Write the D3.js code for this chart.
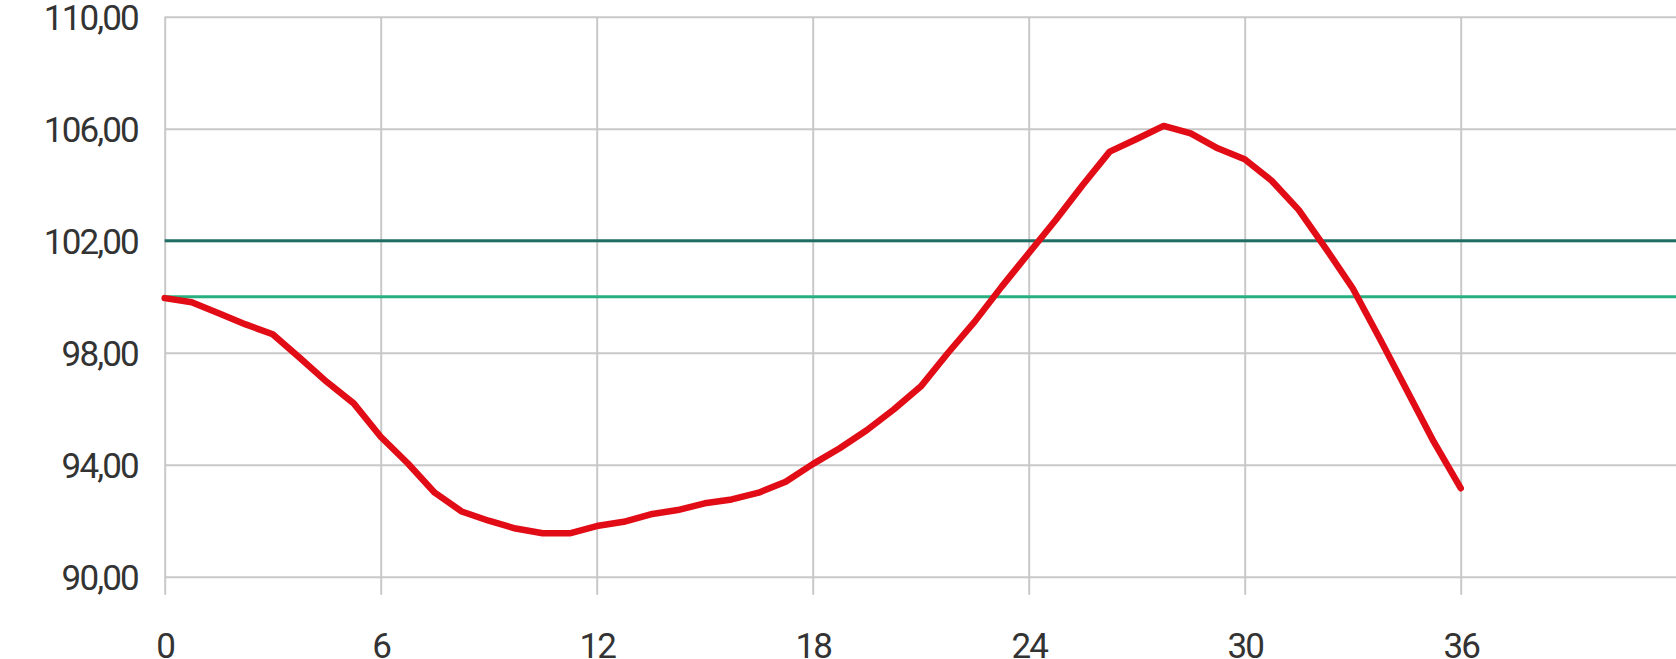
<!DOCTYPE html>
<html>
<head>
<meta charset="utf-8">
<script src="https://cdn.jsdelivr.net/npm/d3@7"></script>
<style>
  body { margin: 0; background: #fff; }
  svg { display: block; }
</style>
</head>
<body>
<div class="chart"></div>
<script>
const hours = [
  0, 0.75, 1.5, 2.25, 3, 3.75, 4.5, 5.25, 6, 6.75, 7.5, 8.25,
  9, 9.75, 10.5, 11.25, 12, 12.75, 13.5, 14.25, 15, 15.75, 16.5, 17.25,
  18, 18.75, 19.5, 20.25, 21, 21.75, 22.5, 23.25, 24, 24.75, 25.5, 26.25,
  27, 27.75, 28.5, 29.25, 30, 30.75, 31.5, 32.25, 33, 33.75, 34.5, 35.25, 36
];
const values = [
  99.95, 99.80, 99.41, 99.01, 98.66, 97.82, 96.96, 96.19, 95.00, 94.05, 93.00, 92.33,
  92.00, 91.72, 91.55, 91.55, 91.81, 91.96, 92.23, 92.38, 92.62, 92.76, 93.00, 93.39,
  94.02, 94.59, 95.23, 95.97, 96.79, 97.98, 99.11, 100.36, 101.55, 102.74, 103.99, 105.18,
  105.63, 106.10, 105.83, 105.30, 104.91, 104.14, 103.10, 101.73, 100.30, 98.51, 96.67, 94.82, 93.16
];
const xTicks = [0, 6, 12, 18, 24, 30, 36, 42];
const yTicks = [90, 94, 98, 102, 106, 110];
const upperLimit = 102;
const target = 100;

const chartWidth = 1676;
const chartHeight = 659;

const margin = {
  left: 164.7,
  top: 16.7,
  bottom: 82.3
};

const plotBottom = chartHeight - margin.bottom;

const svg = d3.select('.chart')
  .append('svg')
  .attr('width', chartWidth)
  .attr('height', chartHeight);

const xScale = d3.scaleLinear()
  .domain([0, 42])
  .range([margin.left, margin.left + 42 * 36]);

const yScale = d3.scaleLinear()
  .domain([90, 110])
  .range([plotBottom, margin.top]);

const labelStyle = sel => sel
  .attr('fill', '#333')
  .attr('font-family', 'Roboto, sans-serif')
  .attr('font-weight', 400)
  .attr('font-size', '35px')
  .attr('letter-spacing', '-1.9px');

// vertical grid (runs a little below the plot as tick marks)
const xAxis = d3.axisBottom(xScale)
  .tickValues(xTicks)
  .tickSize(-(plotBottom - margin.top) - 18)
  .tickFormat(d => d === 42 ? '' : d);

const xAxisElement = svg.append('g')
  .attr('transform', `translate(0, ${plotBottom + 18})`)
  .call(xAxis);
xAxisElement.select('.domain').remove();
xAxisElement.selectAll('line')
  .attr('stroke', '#c8c8c8')
  .attr('stroke-width', 2);
xAxisElement.selectAll('text')
  .attr('y', 63)
  .attr('dy', 0)
  .call(labelStyle);

// horizontal grid + labels
const yAxis = d3.axisLeft(yScale)
  .tickValues(yTicks)
  .tickSize(-(xScale(42) - margin.left))
  .tickPadding(27)
  .tickFormat(d => d3.format('.2f')(d).replace('.', ','));

const yAxisElement = svg.append('g')
  .attr('transform', `translate(${margin.left}, 0)`)
  .call(yAxis);
yAxisElement.select('.domain').remove();
yAxisElement.selectAll('line')
  .attr('stroke', '#c8c8c8')
  .attr('stroke-width', 2);
yAxisElement.selectAll('text')
  .attr('dy', '12.6px')
  .call(labelStyle);

// reference lines
svg.append('line')
  .attr('x1', margin.left)
  .attr('x2', chartWidth)
  .attr('y1', yScale(upperLimit))
  .attr('y2', yScale(upperLimit))
  .attr('stroke', '#1f6e66')
  .attr('stroke-width', 3);

svg.append('line')
  .attr('x1', margin.left)
  .attr('x2', chartWidth)
  .attr('y1', yScale(target))
  .attr('y2', yScale(target))
  .attr('stroke', '#27b07f')
  .attr('stroke-width', 3);

const line = d3.line()
  .x((d, i) => xScale(hours[i]))
  .y(d => yScale(d));

svg.append('path')
  .datum(values)
  .attr('d', line)
  .attr('fill', 'none')
  .attr('stroke', '#e10c16')
  .attr('stroke-width', 6.5)
  .attr('stroke-linejoin', 'round')
  .attr('stroke-linecap', 'round');
</script>
</body>
</html>
